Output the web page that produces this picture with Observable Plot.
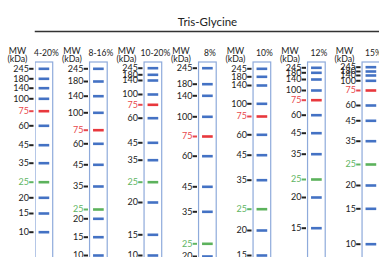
<!DOCTYPE html>
<html>
<head>
<meta charset="utf-8">
<script src="https://cdn.jsdelivr.net/npm/d3@7"></script>
<script src="https://cdn.jsdelivr.net/npm/@observablehq/plot@0.6"></script>
<style>
  html, body { margin: 0; padding: 0; background: white; overflow: hidden; }
</style>
</head>
<body>
<div id="chart"></div>
<script>
// Gel types (lanes) and ladder marker sizes (kDa)
const gels = ["4-20%", "8-16%", "10-20%", "8%", "10%", "12%", "15%"];
const markers = [245, 180, 140, 100, 75, 60, 45, 35, 25, 20, 15, 10];

// Migration distance of each marker band from the top of the lane
const mig_4_20  = [6.3, 16.3, 25.7, 36.3, 48.7, 63.3, 82.7, 100.7, 119.7, 135.3, 151.0, 169.7];
const mig_8_16  = [6.3, 19.0, 33.7, 50.3, 67.7, 81.3, 102.3, 124.0, 147.0, 156.3, 174.7, 193.0];
const mig_10_20 = [5.7, 12.3, 18.0, 32.0, 42.3, 55.7, 80.3, 97.7, 119.7, 140.0, 172.3, 193.0];
const mig_8     = [5.7, 21.7, 33.3, 54.3, 74.0, 93.7, 124.3, 149.3, 181.3, 194.0, null, null];
const mig_10    = [6.3, 14.3, 23.0, 41.3, 54.0, 72.3, 92.7, 117.7, 146.7, 168.0, 193.0, null];
const mig_12    = [5.3, 10.3, 17.0, 28.0, 37.7, 52.7, 70.7, 91.7, 117.0, 135.0, 165.7, null];
const mig_15    = [4.7, 9.0, 13.0, 18.3, 28.0, 43.0, 58.3, 78.7, 102.0, 123.0, 146.3, 181.7];

const migrations = [mig_4_20, mig_8_16, mig_10_20, mig_8, mig_10, mig_12, mig_15];

const BLUE = "#4472c4", RED = "#e8383d", GREEN = "#5cb25c";
const bandColor = kda => kda === 75 ? RED : kda === 25 ? GREEN : BLUE;
const labelColor = kda => kda === 75 ? "#e8474c" : kda === 25 ? "#5fb563" : "#222";

const bands = [];
gels.forEach((g, lane) => {
  markers.forEach((kda, j) => {
    const m = migrations[lane][j];
    if (m != null) bands.push({gel: g, lane, kda, mig: m});
  });
});
const lanes = gels.map((g, lane) => ({gel: g, lane}));

const chart = Plot.plot({
  width: 379,
  height: 257,
  marginTop: 31,
  marginLeft: 35,
  marginRight: 0,
  marginBottom: 0,
  style: {fontFamily: "Lato, 'Open Sans', sans-serif", fontSize: "9px", background: "white", color: "#222"},
  x: {domain: [-0.163, 6.149], axis: null},
  y: {domain: [-31, 195], reverse: true, axis: null},
  marks: [
    // top rule under the title
    Plot.frame({anchor: "top", stroke: "#333", strokeWidth: 1.5}),
    // title
    Plot.text(["Tris-Glycine"], {frameAnchor: "top", dy: -13.7, fontSize: 11.5, fill: "#222"}),
    // header: MW (kDa)
    Plot.text(lanes, {x: "lane", text: () => "MW\n(kDa)", frameAnchor: "top", dy: 16.5, dx: -27, lineHeight: 0.95, fontSize: 8.8, fill: "#222"}),
    // header: gel percentage
    Plot.text(lanes, {x: "lane", text: "gel", frameAnchor: "top", dy: 18.5, dx: 2, fontSize: 8.5, fill: "#222"}),
    // lane outline
    Plot.rect(lanes, {x1: d => d.lane - 0.162, x2: d => d.lane + 0.162, y1: 0, y2: 205, fill: "none", stroke: "#8eaadb", strokeWidth: 1.2, clip: true}),
    // bands
    Plot.ruleY(bands, {y: "mig", x1: d => d.lane - 0.098, x2: d => d.lane + 0.098, stroke: d => bandColor(d.kda), strokeWidth: 2.6}),
    // marker dashes
    Plot.ruleY(bands, {y: "mig", x1: d => d.lane - 0.27, x2: d => d.lane - 0.19, stroke: d => labelColor(d.kda), strokeWidth: 2}),
    // marker labels
    Plot.text(bands, {x: "lane", y: "mig", text: d => String(d.kda), dx: -15.5, textAnchor: "end", fill: d => labelColor(d.kda), fontSize: 9})
  ]
});
document.getElementById("chart").appendChild(chart);
</script>
</body>
</html>
